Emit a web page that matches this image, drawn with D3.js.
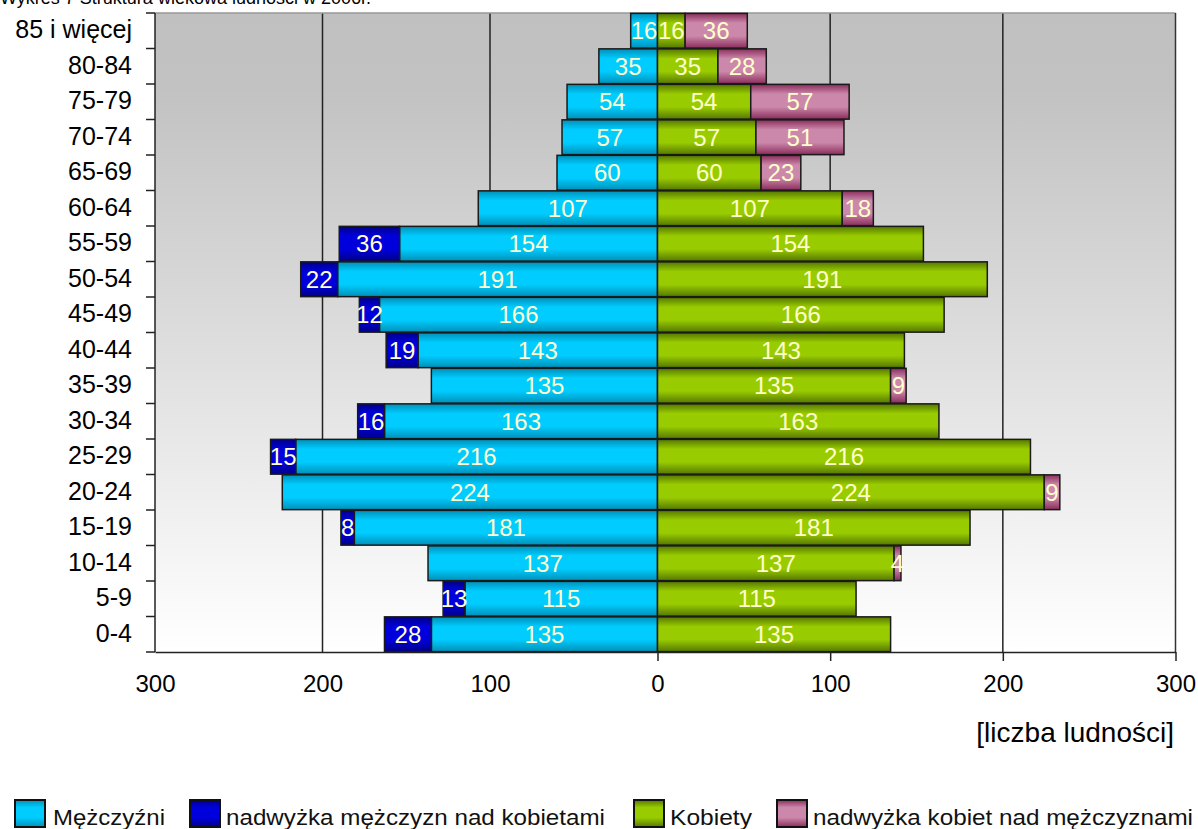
<!DOCTYPE html>
<html>
<head>
<meta charset="utf-8">
<script src="https://cdn.jsdelivr.net/npm/d3@7"></script>
<style>
  body { margin: 0; background: #fff; }
  text { font-family: "Liberation Sans", Arial, sans-serif; }
</style>
</head>
<body>
<div id="chart"></div>
<script>
// Data (bottom to top)
const ageGroups = ['0-4', '5-9', '10-14', '15-19', '20-24', '25-29', '30-34', '35-39', '40-44',
    '45-49', '50-54', '55-59', '60-64', '65-69', '70-74', '75-79', '80-84', '85 i więcej'];
// common part shown both as Mężczyźni (cyan) and Kobiety (green)
const commonValues = [135, 115, 137, 181, 224, 216, 163, 135, 143, 166, 191, 154, 107, 60, 57, 54, 35, 16];
const maleSurplus = [28, 13, 0, 8, 0, 15, 16, 0, 19, 12, 22, 36, 0, 0, 0, 0, 0, 0];
const femaleSurplus = [0, 0, 4, 0, 9, 0, 0, 9, 0, 0, 0, 0, 18, 23, 51, 57, 28, 36];
const xTicks = [-300, -200, -100, 0, 100, 200, 300];
const legendLabels = ['Mężczyźni', 'nadwyżka mężczyzn nad kobietami', 'Kobiety', 'nadwyżka kobiet nad mężczyznami'];

function draw() {
    const dimensions = {
        width: 1198,
        height: 829,
        top: 13,
        bottom: 652,
        left: 155,
        zero: 657.5,
        right: 1175.5,
    };

    const svg = d3.select('#chart')
        .append('svg')
        .attr('width', dimensions.width)
        .attr('height', dimensions.height);

    const defs = svg.append('defs');

    // background gradient of the plot area
    const bg = defs.append('linearGradient')
        .attr('id', 'bg')
        .attr('x1', 0).attr('y1', 0).attr('x2', 0).attr('y2', 1);
    bg.append('stop').attr('offset', '0%').attr('stop-color', '#c0c0c0');
    bg.append('stop').attr('offset', '12%').attr('stop-color', '#c2c2c2');
    bg.append('stop').attr('offset', '100%').attr('stop-color', '#ffffff');

    // shiny bar gradients
    const palette = [
        { id: 'gMale', dark: '#0090b8', light: '#00ccff' },
        { id: 'gMaleEx', dark: '#000088', light: '#0000dd' },
        { id: 'gFemale', dark: '#557700', light: '#99cc00' },
        { id: 'gFemaleEx', dark: '#8a2d5c', light: '#cc88aa' },
    ];
    palette.forEach(p => {
        const g = defs.append('linearGradient')
            .attr('id', p.id)
            .attr('x1', 0).attr('y1', 0).attr('x2', 0).attr('y2', 1);
        g.append('stop').attr('offset', '0%').attr('stop-color', p.dark);
        g.append('stop').attr('offset', '28%').attr('stop-color', p.light);
        g.append('stop').attr('offset', '65%').attr('stop-color', p.light);
        g.append('stop').attr('offset', '100%').attr('stop-color', p.dark);
    });

    // Scales
    const xScale = d3.scaleLinear()
        .domain([-300, 0, 300])
        .range([dimensions.left, dimensions.zero, dimensions.right]);

    const yScale = d3.scaleBand()
        .domain(ageGroups.slice().reverse())
        .range([dimensions.top, dimensions.bottom])
        .paddingInner(0.02)
        .paddingOuter(0.01);

    const step = (dimensions.bottom - dimensions.top) / ageGroups.length;

    // Title (cut at the top edge, as in the source)
    svg.append('text')
        .attr('x', 0)
        .attr('y', 4)
        .attr('font-size', 18)
        .attr('fill', '#000')
        .text('Wykres 7 Struktura wiekowa ludności w 2006r.');

    // Plot background
    svg.append('rect')
        .attr('x', dimensions.left)
        .attr('y', dimensions.top)
        .attr('width', dimensions.right - dimensions.left)
        .attr('height', dimensions.bottom - dimensions.top)
        .attr('fill', 'url(#bg)');

    // Grid
    svg.append('g')
        .selectAll('line')
        .data([-200, -100, 100, 200])
        .join('line')
        .attr('x1', d => xScale(d))
        .attr('x2', d => xScale(d))
        .attr('y1', dimensions.top)
        .attr('y2', dimensions.bottom)
        .attr('stroke', '#222')
        .attr('stroke-width', 1.5);

    // frame
    svg.append('line')
        .attr('x1', dimensions.left).attr('x2', dimensions.right)
        .attr('y1', dimensions.top).attr('y2', dimensions.top)
        .attr('stroke', '#999').attr('stroke-width', 1.5);
    svg.append('line')
        .attr('x1', dimensions.right).attr('x2', dimensions.right)
        .attr('y1', dimensions.top).attr('y2', dimensions.bottom)
        .attr('stroke', '#333').attr('stroke-width', 1.5);

    // Bars
    const rows = ageGroups.map((age, i) => ({
        age: age,
        common: commonValues[i],
        male: maleSurplus[i],
        female: femaleSurplus[i],
    }));

    const segments = [];
    rows.forEach(r => {
        segments.push({ age: r.age, x0: -r.common, x1: 0, value: r.common, fill: 'gMale' });
        if (r.male > 0) {
            segments.push({ age: r.age, x0: -r.common - r.male, x1: -r.common, value: r.male, fill: 'gMaleEx' });
        }
        segments.push({ age: r.age, x0: 0, x1: r.common, value: r.common, fill: 'gFemale' });
        if (r.female > 0) {
            segments.push({ age: r.age, x0: r.common, x1: r.common + r.female, value: r.female, fill: 'gFemaleEx' });
        }
    });

    const bars = svg.append('g').classed('bars', true);

    bars.selectAll('rect')
        .data(segments)
        .join('rect')
        .attr('x', d => xScale(d.x0))
        .attr('y', d => yScale(d.age))
        .attr('width', d => xScale(d.x1) - xScale(d.x0))
        .attr('height', yScale.bandwidth())
        .attr('fill', d => `url(#${d.fill})`)
        .attr('stroke', '#1a1a1a')
        .attr('stroke-width', 1.5);

    bars.selectAll('text')
        .data(segments)
        .join('text')
        .attr('x', d => (xScale(d.x0) + xScale(d.x1)) / 2)
        .attr('y', d => yScale(d.age) + yScale.bandwidth() / 2 + 8.5)
        .attr('text-anchor', 'middle')
        .attr('font-size', 24)
        .attr('fill', '#ffffcc')
        .text(d => d.value);

    // Y axis
    svg.append('line')
        .attr('x1', dimensions.left).attr('x2', dimensions.left)
        .attr('y1', dimensions.top).attr('y2', dimensions.bottom)
        .attr('stroke', '#222').attr('stroke-width', 1.5);

    svg.append('g')
        .selectAll('line')
        .data(d3.range(ageGroups.length + 1))
        .join('line')
        .attr('x1', dimensions.left - 9)
        .attr('x2', dimensions.left)
        .attr('y1', i => dimensions.top + i * step)
        .attr('y2', i => dimensions.top + i * step)
        .attr('stroke', '#222')
        .attr('stroke-width', 1.5);

    svg.append('g')
        .selectAll('text')
        .data(ageGroups)
        .join('text')
        .attr('x', 132)
        .attr('y', d => yScale(d) + yScale.bandwidth() / 2 + 7.5)
        .attr('text-anchor', 'end')
        .attr('font-size', 25)
        .attr('fill', '#000')
        .text(d => d);

    // X axis
    const xAxisGroup = svg.append('g')
        .attr('transform', `translate(0, ${dimensions.bottom})`);
    const xAxis = d3.axisBottom(xScale)
        .tickValues(xTicks)
        .tickFormat(d => Math.abs(d))
        .tickSize(9)
        .tickPadding(14)
        .tickSizeOuter(0);
    xAxisGroup.call(xAxis);
    xAxisGroup.select('.domain')
        .attr('stroke', '#222')
        .attr('stroke-width', 1.5);
    xAxisGroup.selectAll('.tick line')
        .attr('stroke', '#222')
        .attr('stroke-width', 1.5)
        .filter(d => d < 0)
        .remove();
    xAxisGroup.selectAll('.tick text')
        .attr('y', 23)
        .attr('font-size', 24)
        .attr('font-family', '"Liberation Sans", Arial, sans-serif')
        .attr('fill', '#000');

    svg.append('text')
        .attr('x', 1174)
        .attr('y', 742)
        .attr('text-anchor', 'end')
        .attr('font-size', 28)
        .attr('fill', '#000')
        .text('[liczba ludności]');

    // Legend
    const legendItems = [
        { fill: 'gMale', boxX: 15, textX: 53, textW: 112 },
        { fill: 'gMaleEx', boxX: 190, textX: 226, textW: 379 },
        { fill: 'gFemale', boxX: 634, textX: 670, textW: 82 },
        { fill: 'gFemaleEx', boxX: 777, textX: 813, textW: 380 },
    ];

    const legend = svg.append('g').classed('legend', true)
        .selectAll('g')
        .data(legendItems)
        .join('g');

    legend.append('rect')
        .attr('x', d => d.boxX)
        .attr('y', 800)
        .attr('width', 30)
        .attr('height', 27)
        .attr('fill', d => `url(#${d.fill})`)
        .attr('stroke', '#111')
        .attr('stroke-width', 2);

    legend.append('text')
        .attr('x', d => d.textX)
        .attr('y', 825)
        .attr('font-size', 22)
        .attr('fill', '#111')
        .attr('textLength', d => d.textW)
        .attr('lengthAdjust', 'spacingAndGlyphs')
        .text((d, i) => legendLabels[i]);
}

draw();
</script>
</body>
</html>
